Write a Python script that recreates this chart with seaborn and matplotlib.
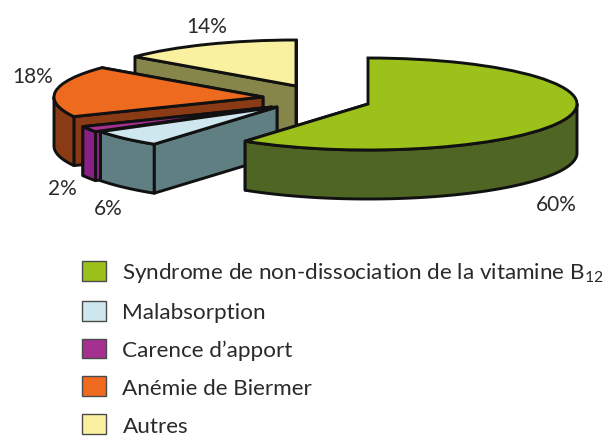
import numpy as np
import matplotlib
matplotlib.use("Agg")
import matplotlib.pyplot as plt
from matplotlib.patches import Patch
import seaborn as sns

# data
labels = ["Syndrome de non-dissociation de la vitamine B$_{12}$", "Malabsorption",
          "Carence d’apport", "Anémie de Biermer", "Autres"]
values = [60, 6, 2, 18, 14]
value_labels = ["60%", "6%", "2%", "18%", "14%"]
top_colors = ["#9DC11B", "#CFE7EE", "#A5308F", "#EE6A1F", "#F9F0A0"]
side_colors = ["#4F6523", "#5F7F82", "#8A1F85", "#8A3A14", "#86864A"]

# layout, in pixels of the 607x439 picture
W, H = 607, 439
RX, RY = 209, 46
DEPTH = 49
slice_centres = [(368, 105), (277, 108), (272, 108), (263, 98), (296, 87)]
label_pos = [(556, 205), (108, 209), (62, 189), (33, 77), (207, 27)]
draw_rank = [4, 3, 2, 1, 0]  # green in front, yellow at the back

sns.set_theme(style="white")
plt.rcParams["font.family"] = ["Lato", "DejaVu Sans"]
plt.rcParams["mathtext.default"] = "regular"
EDGE = "#111111"
LW = 2.1

fig = plt.figure(figsize=(W / 100, H / 100), dpi=100)
ax = fig.add_axes([0, 0, 1, 1])

# the pie gives the angles, each wedge is then moved out on its own
wedges, _ = ax.pie(values, startangle=90, counterclock=False, colors=top_colors,
                   wedgeprops={"edgecolor": EDGE, "linewidth": LW})
ax.set_aspect("auto")
ax.set_xlim(0, W / RX)
ax.set_ylim(0, H / RY)
ax.axis("off")


def to_data(px, py):
    return px / RX, (H - py) / RY


dz = DEPTH / RY
for w, (px, py), side, rank in zip(wedges, slice_centres, side_colors, draw_rank):
    cx, cy = to_data(px, py)
    w.set_center((cx, cy))
    w.set_zorder(rank * 3 + 2)
    # flat walls of the cut
    for t in (w.theta1, w.theta2):
        rx = cx + np.cos(np.radians(t))
        ry = cy + np.sin(np.radians(t))
        ax.fill([cx, rx, rx, cx], [cy, ry, ry - dz, cy - dz], facecolor=side,
                edgecolor=EDGE, linewidth=LW, joinstyle="round", zorder=rank * 3)
    # rim, only the part facing us
    ts = np.radians(np.linspace(w.theta1, w.theta2, 240))
    ts = ts[np.sin(ts) <= 0]
    if len(ts) > 1:
        xs = cx + np.cos(ts)
        ys = cy + np.sin(ts)
        ax.fill(np.r_[xs, xs[::-1]], np.r_[ys, ys[::-1] - dz], facecolor=side,
                edgecolor=EDGE, linewidth=LW, joinstyle="round", zorder=rank * 3 + 1)

for txt, (px, py) in zip(value_labels, label_pos):
    x, y = to_data(px, py)
    ax.text(x, y, txt, ha="center", va="center", fontsize=15, color="#2a2a2a", zorder=30)

handles = [Patch(facecolor=c, edgecolor="#4a4a4a", linewidth=1.0) for c in top_colors]
fig.legend(handles, labels, loc="upper left", bbox_to_anchor=(77 / W, 1 - 257 / H),
           frameon=False, fontsize=16.2, labelcolor="#2a2a2a", handlelength=1.07,
           handleheight=0.98, handletextpad=0.75, labelspacing=0.72, borderpad=0.2, borderaxespad=0)

plt.savefig("out.png", dpi=100)
